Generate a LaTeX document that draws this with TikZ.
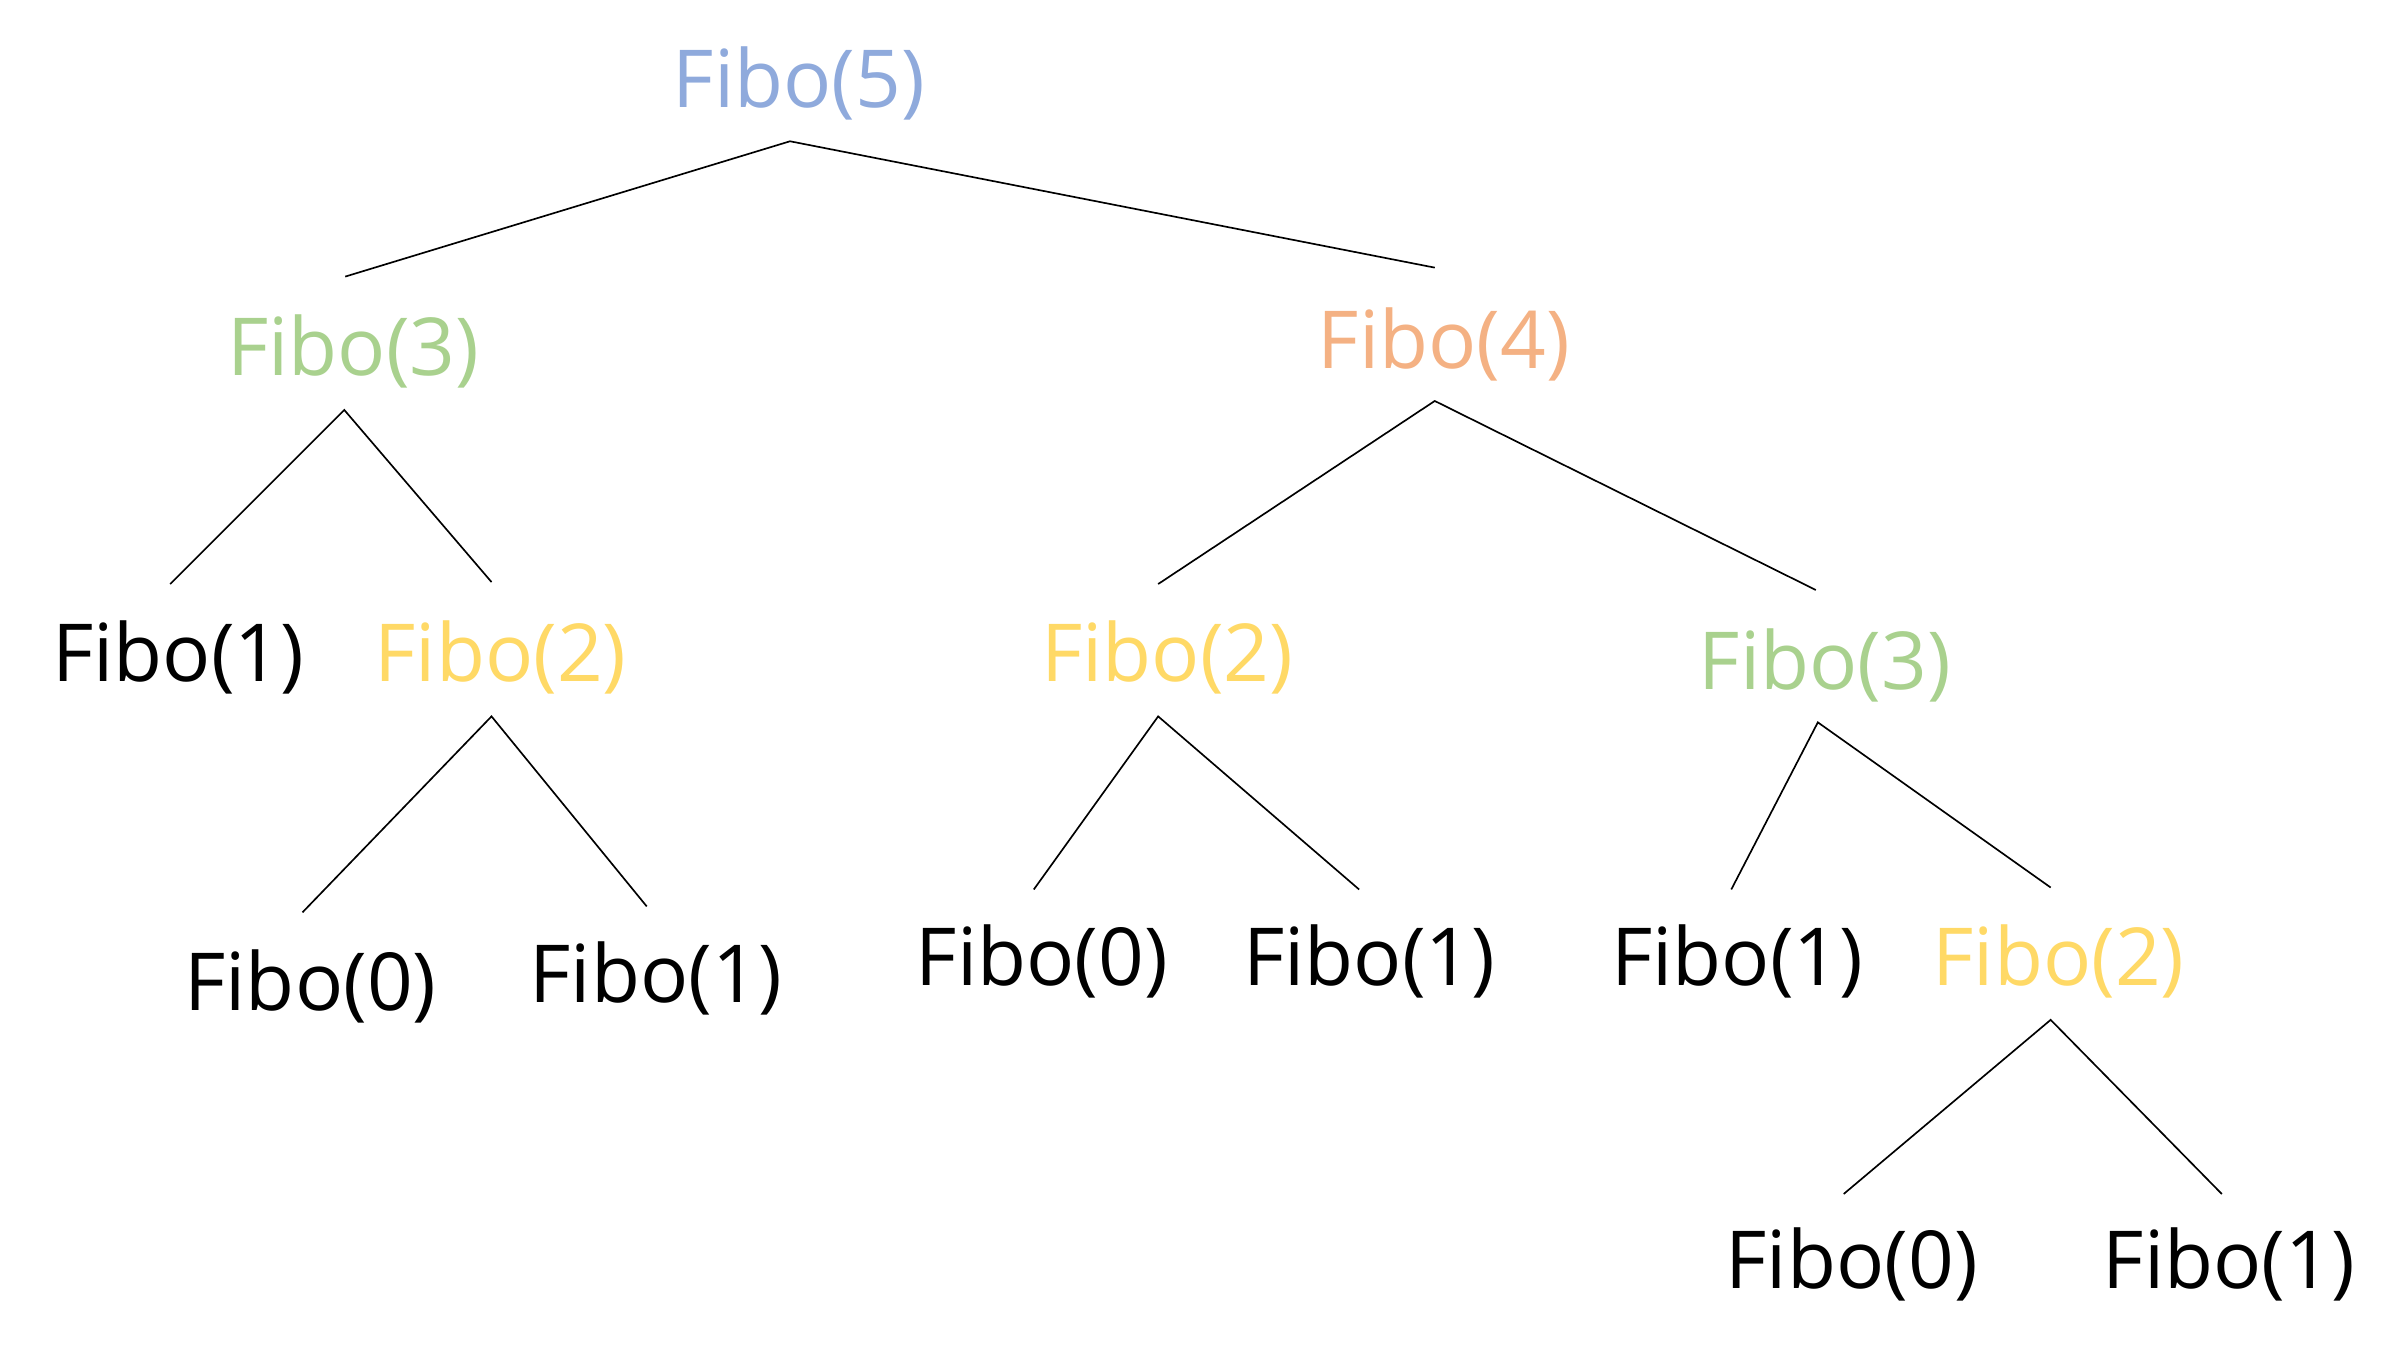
\documentclass[tikz,border=0pt]{standalone}
\usepackage{fontspec}
\setmainfont{Open Sans}
\definecolor{cblue}{HTML}{8FAADC}
\definecolor{cgreen}{HTML}{A9D18E}
\definecolor{corange}{HTML}{F4B183}
\definecolor{cyellow}{HTML}{FFD966}
\begin{document}
\begin{tikzpicture}[x=0.2985pt,y=-0.2985pt,
  fn/.style={anchor=base,inner sep=0pt,font=\fontsize{24}{28}\selectfont},
  edge/.style={line width=0.5pt,black}]
\useasboundingbox (0pt,0pt) rectangle (722.4pt,-408.3pt);
% nodes
\node[fn,text=cblue]   (f5)  at (803,108)  {Fibo(5)};
\node[fn,text=cgreen]  (f3a) at (355,377)  {Fibo(3)};
\node[fn,text=corange] (f4)  at (1451,370) {Fibo(4)};
\node[fn]              (f1a) at (179,685)  {Fibo(1)};
\node[fn,text=cyellow] (f2a) at (503,685)  {Fibo(2)};
\node[fn]              (f0a) at (312,1016) {Fibo(0)};
\node[fn]              (f1b) at (659,1008) {Fibo(1)};
\node[fn,text=cyellow] (f2b) at (1173,685) {Fibo(2)};
\node[fn,text=cgreen]  (f3b) at (1834,693) {Fibo(3)};
\node[fn]              (f0b) at (1047,990) {Fibo(0)};
\node[fn]              (f1c) at (1376,990) {Fibo(1)};
\node[fn]              (f1d) at (1746,990) {Fibo(1)};
\node[fn,text=cyellow] (f2c) at (2069,990) {Fibo(2)};
\node[fn]              (f0c) at (1861,1295) {Fibo(0)};
\node[fn]              (f1e) at (2240,1295) {Fibo(1)};
% connector end points
\coordinate (f5b) at (794,142);
\coordinate (f3at) at (347,278);
\coordinate (f4t) at (1442,269);
\coordinate (f3ab) at (346,412);
\coordinate (f1at) at (171,587);
\coordinate (f2at) at (494,585);
\coordinate (f2ab) at (494,720);
\coordinate (f0at) at (304,917);
\coordinate (f1bt) at (650,911);
\coordinate (f4b) at (1442,403);
\coordinate (f2bt) at (1164,587);
\coordinate (f3bt) at (1825,593);
\coordinate (f2bb) at (1164,720);
\coordinate (f0bt) at (1039,894);
\coordinate (f1ct) at (1366,894);
\coordinate (f3bb) at (1827,726);
\coordinate (f1dt) at (1740,894);
\coordinate (f2ct) at (2061,892);
\coordinate (f2cb) at (2061,1025);
\coordinate (f0ct) at (1853,1200);
\coordinate (f1et) at (2233,1200);
% connectors
\draw[edge] (f3at) -- (f5b) -- (f4t);
\draw[edge] (f1at) -- (f3ab) -- (f2at);
\draw[edge] (f0at) -- (f2ab) -- (f1bt);
\draw[edge] (f2bt) -- (f4b) -- (f3bt);
\draw[edge] (f0bt) -- (f2bb) -- (f1ct);
\draw[edge] (f1dt) -- (f3bb) -- (f2ct);
\draw[edge] (f0ct) -- (f2cb) -- (f1et);
\end{tikzpicture}
\end{document}
